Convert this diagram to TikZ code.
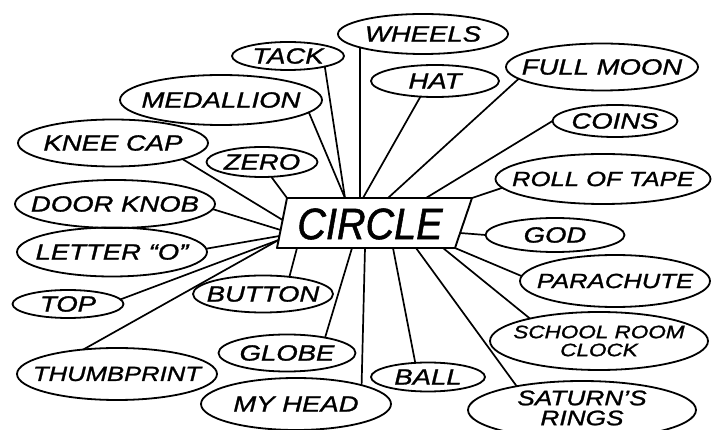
\documentclass[tikz,border=0pt]{standalone}
\usepackage{fontspec}
\usetikzlibrary{shapes.geometric,calc}
\newfontfamily\handfam[FakeStretch=1.25,FakeBold=1.2]{Liberation Sans}
\newfontfamily\circfam[FakeStretch=0.9,FakeBold=1.2]{Liberation Sans}
\newcommand\handtxt{\handfam\itshape\fontsize{22}{22}\selectfont}
\newcommand\handmid{\handfam\itshape\fontsize{20.5}{22}\selectfont}
\newcommand\handsat{\handfam\itshape\fontsize{21}{20}\selectfont}
\newcommand\handsm{\handfam\itshape\fontsize{18}{18}\selectfont}
\newcommand\circtxt{\circfam\itshape\fontsize{44}{44}\selectfont}
\begin{document}
\begin{tikzpicture}[x=1pt,y=-1pt,
  bub/.style n args={2}{draw, ellipse, line width=1.8pt, inner sep=0pt, outer sep=0pt, minimum width=#1, minimum height=#2},
  every label/.style={font=\handtxt, inner sep=0pt},
  link/.style={line width=1.7pt, line cap=round},
  boxline/.style={line width=1.9pt, line join=round}]
\fill[white] (0,0) rectangle (713,430);
\useasboundingbox (0,0) rectangle (713,430);

% central box
\coordinate (bnw) at (287,198);
\coordinate (bne) at (472,198);
\coordinate (bse) at (455,248);
\coordinate (bsw) at (277,248);
\draw[boxline] (bnw) -- (bne) -- (bse) -- (bsw) -- cycle;
\node[font=\circtxt, inner sep=0pt] (circle) at (370,224) {CIRCLE};

% ellipses
\node[bub={170pt}{40pt}, label=center:WHEELS] (wheels) at (423,34) {};
\node[bub={112pt}{28pt}, label=center:TACK] (tack) at (288,56) {};
\node[bub={128pt}{32pt}, label=center:HAT] (hat) at (435,81) {};
\node[bub={192pt}{47pt}, label=center:FULL MOON] (fullmoon) at (602,67) {};
\node[bub={202pt}{50pt}, label=center:MEDALLION] (medallion) at (221,100) {};
\node[bub={125pt}{32pt}, label=center:COINS] (coins) at (615,121) {};
\node[bub={190pt}{47pt}, label=center:KNEE CAP] (kneecap) at (113,143) {};
\node[bub={111pt}{30pt}, label=center:ZERO] (zero) at (262,162) {};
\node[bub={215pt}{50pt}, label={[font=\handmid]center:ROLL OF TAPE}] (rolltape) at (603,179) {};
\node[bub={200pt}{48pt}, label=center:DOOR KNOB] (doorknob) at (115,204) {};
\node[bub={139pt}{34pt}, label=center:GOD] (god) at (555,235) {};
\node[bub={190pt}{49pt}, label={center:LETTER “O”}] (letter) at (112,252) {};
\node[bub={190pt}{52pt}, label={[font=\handmid]center:PARACHUTE}] (parachute) at (615,281) {};
\node[bub={140pt}{37pt}, label=center:BUTTON] (button) at (263,294) {};
\node[bub={111pt}{28pt}, label=center:TOP] (top) at (68,304) {};
\node[bub={218pt}{58pt}, label={[font=\handsm, align=center]center:SCHOOL ROOM\\CLOCK}] (clock) at (599,341) {};
\node[bub={137pt}{37pt}, label=center:GLOBE] (globe) at (287,353) {};
\node[bub={200pt}{52pt}, label={[font=\handmid]center:THUMBPRINT}] (thumb) at (117,374) {};
\node[bub={114pt}{29pt}, label=center:BALL] (ball) at (428,377) {};
\node[bub={190pt}{52pt}, label=center:MY HEAD] (myhead) at (296,404) {};
\node[bub={228pt}{58pt}, label={[font=\handsat, align=center, yshift=2pt]center:SATURN’S\\RINGS}] (saturn) at (582,410) {};

% connectors
\draw[link] ($(bnw)+(58,0)$) -- (tack.-16.6);
\draw[link] ($(bnw)+(58,0)$) -- (medallion.-8.5);
\draw[link] ($(bnw)+(73,0)$) -- (wheels.192);
\draw[link] ($(bnw)+(76,0)$) -- (hat.227);
\draw[link] ($(bnw)+(101,0)$) -- (fullmoon.188.8);
\draw[link] ($(bnw)+(139,0)$) -- (coins.180);
\draw[link] (bne) -- (rolltape.185.9);
\draw[link] (bnw) -- (zero.-58);
\draw[link] ($(bnw)!0.44!(bsw)$) -- (kneecap.-13.3);
\draw[link] ($(bnw)!0.64!(bsw)$) -- (doorknob.-3);
\draw[link] ($(bnw)!0.76!(bsw)$) -- (letter.2);
\draw[link] ($(bnw)!0.84!(bsw)$) -- (top.5);
\draw[link] ($(bnw)!0.84!(bsw)$) -- (thumb.144.8);
\draw[link] ($(bsw)+(20,0)$) -- (button.33.7);
\draw[link] ($(bsw)+(75,0)$) -- (globe.22.3);
\draw[link] ($(bsw)+(88,0)$) -- (myhead.16);
\draw[link] ($(bsw)+(116,0)$) -- (ball.132.9);
\draw[link] ($(bsw)+(139,0)$) -- (saturn.160.9);
\draw[link] ($(bsw)+(166,0)$) -- (clock.162);
\draw[link] (bse) -- (parachute.177);
\draw[link] ($(bne)!0.7!(bse)$) -- (god.180);
\end{tikzpicture}
\end{document}
